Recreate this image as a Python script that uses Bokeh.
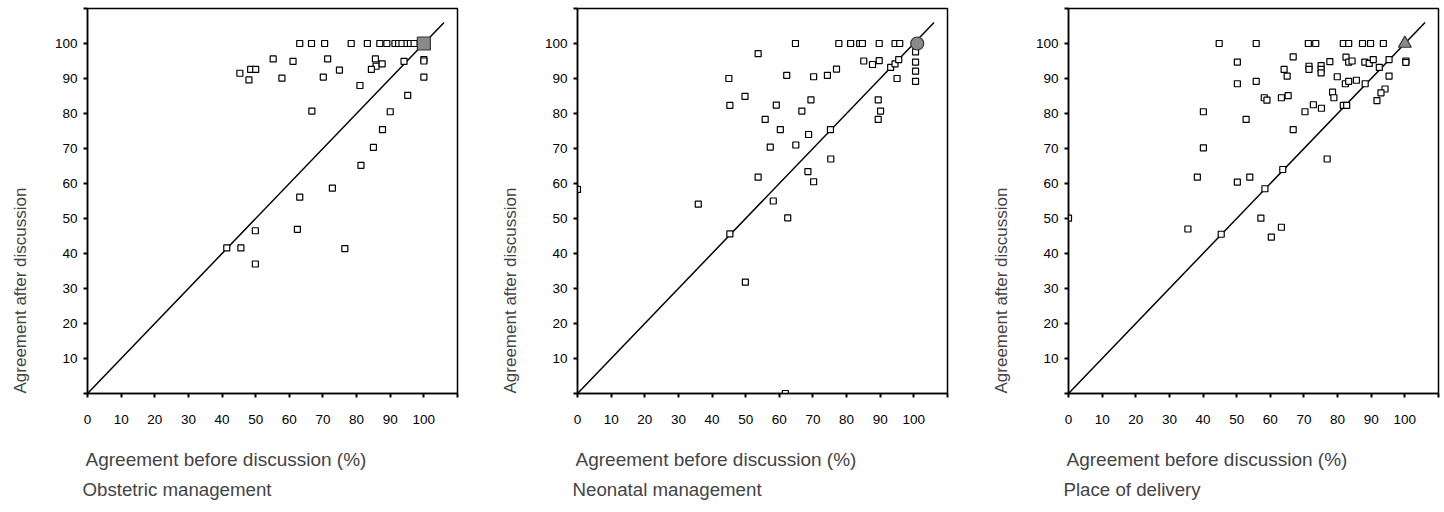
from bokeh.plotting import figure
from bokeh.layouts import row
from bokeh.models import Title, FixedTicker, Range1d
from bokeh.embed import file_html
from bokeh.resources import INLINE

# ---------------- data ----------------
x_ticks = list(range(0, 111, 10))
y_ticks = list(range(0, 111, 10))
diag = [0, 106]

panel_titles = ["Obstetric management", "Neonatal management", "Place of delivery"]
x_label = "Agreement before discussion (%)"
y_label = "Agreement after discussion"

obs_x = [63.1, 66.6, 70.5, 78.4, 83.2, 86.9, 89.0, 91.4, 92.5, 93.5, 95.0, 96.0, 97.1,
         55.2, 61.1, 71.4, 85.6, 85.8, 84.4, 87.6, 94.1, 100.0, 100.0, 100.0,
         45.3, 48.5, 50.0, 48.0, 57.8, 70.1, 74.9, 81.0,
         66.7, 90.0, 95.2, 87.7, 85.0, 81.3, 72.8, 63.1, 62.4, 49.9,
         41.4, 45.6, 76.5, 49.9]
obs_y = [100, 100, 100, 100, 100, 100, 100, 100, 100, 100, 100, 100, 100,
         95.6, 94.9, 95.6, 95.6, 93.5, 92.6, 94.2, 94.9, 95.4, 95.0, 90.4,
         91.5, 92.6, 92.6, 89.6, 90.1, 90.4, 92.4, 88.0,
         80.7, 80.5, 85.2, 75.4, 70.3, 65.2, 58.7, 56.1, 46.9, 46.5,
         41.6, 41.6, 41.4, 37.0]
obs_special = ([100], [100])

neo_x = [64.8, 77.7, 81.2, 83.9, 84.7, 89.7, 94.4, 95.8,
         53.7, 85.1, 87.7, 89.7, 93.1, 94.4, 95.5,
         100.5, 100.5, 100.5, 100.5, 95.0, 77.0, 74.3, 70.2, 62.2, 45.0,
         49.8, 45.3, 59.1, 69.4, 66.7, 89.4, 90.1, 89.4, 55.8,
         60.3, 75.2, 68.7, 57.3, 64.9, 75.3, 53.7, 68.5, 70.2,
         0.0, 35.9, 58.2, 62.5, 45.3, 49.9, 61.8]
neo_y = [100, 100, 100, 100, 100, 100, 100, 100,
         97.1, 95.0, 94.0, 95.1, 93.2, 94.2, 95.4,
         97.6, 94.7, 92.1, 89.2, 90.0, 92.7, 90.9, 90.5, 90.9, 90.0,
         84.9, 82.3, 82.4, 83.9, 80.7, 83.9, 80.7, 78.3, 78.3,
         75.4, 75.4, 74.0, 70.4, 71.0, 67.0, 61.8, 63.4, 60.5,
         58.3, 54.1, 55.0, 50.2, 45.6, 31.8, 0.0]
neo_special = ([101], [100])

place_x = [44.8, 55.8, 71.3, 73.5, 81.7, 83.3, 87.4, 89.8, 93.6,
           50.2, 66.8, 64.1, 65.0, 71.5, 71.5, 75.1, 75.1, 75.1, 77.7, 82.5,
           83.3, 84.3, 88.1, 89.4, 90.6, 92.4, 95.3, 100.3, 100.3, 95.3,
           79.9, 82.3, 83.3, 85.6, 88.2, 50.2, 55.8,
           58.2, 59.0, 63.3, 65.3, 78.5, 78.9, 94.1, 92.9, 91.7,
           81.7, 82.7, 72.8, 75.2, 70.3, 40.1, 52.8, 66.8, 40.1, 76.9,
           63.7, 38.3, 50.2, 53.9, 58.4, 0.0, 57.2, 35.5, 63.3, 60.3, 45.4]
place_y = [100, 100, 100, 100, 100, 100, 100, 100, 100,
           94.7, 96.2, 92.6, 90.7, 93.5, 92.6, 93.7, 92.6, 91.6, 94.8, 96.1,
           94.7, 95.0, 94.7, 94.3, 95.4, 93.2, 95.4, 95.0, 94.6, 90.7,
           90.5, 88.5, 89.2, 89.5, 88.5, 88.5, 89.2,
           84.5, 83.8, 84.5, 85.1, 86.1, 84.5, 87.0, 85.9, 83.7,
           82.3, 82.3, 82.5, 81.5, 80.5, 80.5, 78.3, 75.4, 70.2, 67.0,
           64.0, 61.8, 60.4, 61.8, 58.5, 50.1, 50.1, 47.0, 47.5, 44.7, 45.5]
place_special = ([100], [100])

FONT = "Liberation Sans"


def make_panel(xs, ys, special, marker, title, border_right):
    p = figure(frame_width=370, frame_height=385,
               x_range=Range1d(0, 110), y_range=Range1d(0, 110),
               output_backend="svg", toolbar_location=None,
               min_border_left=87, min_border_right=border_right,
               min_border_top=8, min_border_bottom=4)
    p.grid.visible = False
    p.background_fill_color = "white"
    p.border_fill_color = "white"
    p.outline_line_color = "black"
    p.outline_line_width = 1.5

    for ax in (p.xaxis[0], p.yaxis[0]):
        ax.axis_line_color = "black"
        ax.axis_line_width = 1.5
        ax.major_tick_line_color = "black"
        ax.major_tick_line_width = 2
        ax.major_tick_in = 0
        ax.major_tick_out = 4
        ax.minor_tick_line_color = None
        ax.major_label_text_font = FONT
        ax.major_label_text_font_size = "13.5px"
        ax.major_label_text_color = "black"
        # blank spacer label: reserves room between tick labels and the titles
        ax.axis_label = " "
        ax.axis_label_text_font_size = "1px"

    p.xaxis.ticker = FixedTicker(ticks=x_ticks)
    p.yaxis.ticker = FixedTicker(ticks=y_ticks)
    p.xaxis.major_label_overrides = {110: ""}
    p.yaxis.major_label_overrides = {0: "", 110: ""}
    p.xaxis.major_label_standoff = 17
    p.yaxis.major_label_standoff = 6
    p.xaxis.axis_label_standoff = 16
    p.yaxis.axis_label_standoff = 18

    # diagonal reference line
    p.line(diag, diag, line_color="black", line_width=1.5)

    p.scatter(xs, ys, marker="square", size=6, fill_color="white",
              line_color="black", line_width=1.2)
    p.scatter(special[0], special[1], marker=marker, size=13,
              fill_color="#8a8a8a", line_color="#333333", line_width=1.2)

    p.add_layout(Title(text=y_label, align="left", text_font=FONT,
                       text_font_size="17px", text_font_style="normal",
                       standoff=0), "left")
    p.add_layout(Title(text=x_label, align="left", text_font=FONT,
                       text_font_size="19px", text_font_style="normal",
                       standoff=0, offset=-2), "below")
    p.add_layout(Title(text=title, align="left", text_font=FONT,
                       text_font_size="18.7px", text_font_style="normal",
                       standoff=15, offset=-5), "below")
    return p


p1 = make_panel(obs_x, obs_y, obs_special, "square", panel_titles[0], 33)
p2 = make_panel(neo_x, neo_y, neo_special, "circle", panel_titles[1], 34)
p3 = make_panel(place_x, place_y, place_special, "triangle", panel_titles[2], 5)

layout = row(p1, p2, p3)
open("out.html", "w").write(file_html(layout, INLINE))
